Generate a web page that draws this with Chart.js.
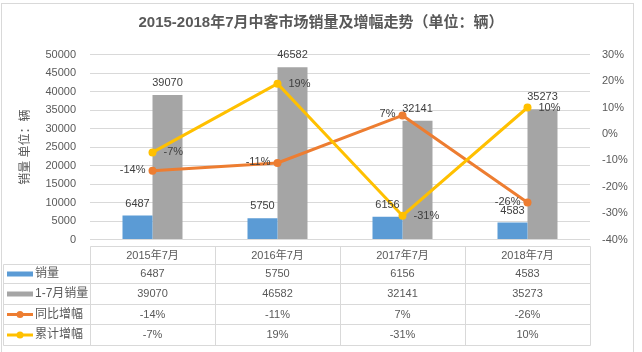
<!DOCTYPE html>
<html>
<head>
<meta charset="utf-8">
<script src="https://cdn.jsdelivr.net/npm/chart.js@4/dist/chart.umd.min.js"></script>
<style>
  html, body { margin: 0; padding: 0; background: #ffffff; }
  #wrap { width: 642px; height: 352px; }
</style>
</head>
<body>
<div id="wrap"><canvas id="c" width="642" height="352"></canvas></div>
<script>
const categories = ['2015年7月', '2016年7月', '2017年7月', '2018年7月'];
const salesJuly = [6487, 5750, 6156, 4583];
const salesJanJul = [39070, 46582, 32141, 35273];
const yoyGrowth = [-14, -11, 7, -26];
const cumGrowth = [-7, 19, -31, 10];
const leftTicks = [0, 5000, 10000, 15000, 20000, 25000, 30000, 35000, 40000, 45000, 50000];
const rightTicks = [-40, -30, -20, -10, 0, 10, 20, 30];
const seriesNames = ['销量', '1-7月销量', '同比增幅', '累计增幅'];

const FONT = '"Liberation Sans", "Noto Sans CJK SC", sans-serif';
const C_BLUE = '#5B9BD5', C_GRAY = '#A5A5A5', C_ORANGE = '#ED7D31', C_YELLOW = '#FFC000';
const TXT = '#595959', LBL = '#404040', GRID = '#D9D9D9';

const pct = v => v + '%';

const borderPlugin = {
  id: 'borderPlugin',
  beforeDraw(chart) {
    const ctx = chart.ctx;
    ctx.save();
    ctx.fillStyle = '#ffffff';
    ctx.fillRect(0, 0, chart.width, chart.height);
    ctx.strokeStyle = GRID;
    ctx.lineWidth = 1;
    ctx.strokeRect(1.5, 3.5, 632, 360);
    ctx.restore();
  }
};

const labelPlugin = {
  id: 'labelPlugin',
  afterDatasetsDraw(chart) {
    const ctx = chart.ctx;
    ctx.save();
    ctx.font = '11px ' + FONT;
    ctx.fillStyle = LBL;
    chart.data.datasets.forEach((ds, di) => {
      const meta = chart.getDatasetMeta(di);
      meta.data.forEach((el, i) => {
        const v = ds.data[i];
        if (ds.type === 'bar') {
          ctx.textAlign = 'center';
          ctx.textBaseline = 'middle';
          ctx.fillText(String(v), el.x, el.y - 12);
        } else if (ds.labelSide === 'left') {
          ctx.textAlign = 'right';
          ctx.textBaseline = 'middle';
          ctx.fillText(pct(v), el.x - 7, el.y - 1);
        } else {
          ctx.textAlign = 'left';
          ctx.textBaseline = 'middle';
          ctx.fillText(pct(v), el.x + 11, el.y);
        }
      });
    });
    ctx.restore();
  }
};

const tablePlugin = {
  id: 'tablePlugin',
  afterDraw(chart) {
    const ctx = chart.ctx;
    const xs = chart.scales.x;
    const area = chart.chartArea;
    const n = categories.length;
    const colW = (area.right - area.left) / n;
    const rows = [246.5, 264.5, 283.5, 304.5, 324.5, 345.5];
    const tableLeft = 3.5;
    ctx.save();
    ctx.strokeStyle = GRID;
    ctx.lineWidth = 1;
    ctx.beginPath();
    ctx.moveTo(Math.round(area.left) + 0.5, rows[0]);
    ctx.lineTo(Math.round(area.right) + 0.5, rows[0]);
    for (let r = 1; r < rows.length; r++) {
      ctx.moveTo(tableLeft, rows[r]);
      ctx.lineTo(Math.round(area.right) + 0.5, rows[r]);
    }
    ctx.moveTo(tableLeft, rows[1]);
    ctx.lineTo(tableLeft, rows[rows.length - 1]);
    for (let c = 0; c <= n; c++) {
      const x = Math.round(area.left + c * colW) + 0.5;
      ctx.moveTo(x, rows[0]);
      ctx.lineTo(x, rows[rows.length - 1]);
    }
    ctx.stroke();

    ctx.font = '11px ' + FONT;
    ctx.textAlign = 'center';
    ctx.textBaseline = 'middle';
    ctx.fillStyle = TXT;
    categories.forEach((c, i) => {
      ctx.fillText(c, xs.getPixelForValue(i), (rows[0] + rows[1]) / 2);
    });
    const rowData = [
      salesJuly.map(String),
      salesJanJul.map(String),
      yoyGrowth.map(pct),
      cumGrowth.map(pct)
    ];
    const colors = [C_BLUE, C_GRAY, C_ORANGE, C_YELLOW];
    rowData.forEach((vals, r) => {
      const yc = (rows[r + 1] + rows[r + 2]) / 2;
      if (r < 2) {
        ctx.fillStyle = colors[r];
        ctx.fillRect(7, yc - 2.5, 26, 5);
      } else {
        ctx.strokeStyle = colors[r];
        ctx.lineWidth = 3;
        ctx.beginPath();
        ctx.moveTo(7, yc);
        ctx.lineTo(33, yc);
        ctx.stroke();
        ctx.fillStyle = colors[r];
        ctx.beginPath();
        ctx.arc(20, yc, 3.5, 0, Math.PI * 2);
        ctx.fill();
      }
      ctx.fillStyle = TXT;
      ctx.textAlign = 'left';
      ctx.font = '12px ' + FONT;
      ctx.fillText(seriesNames[r], 35, yc);
      ctx.font = '11px ' + FONT;
      ctx.textAlign = 'center';
      vals.forEach((v, i) => {
        ctx.fillText(v, xs.getPixelForValue(i), yc);
      });
    });
    ctx.restore();
  }
};

new Chart(document.getElementById('c'), {
  data: {
    labels: categories,
    datasets: [
      {
        type: 'line', label: seriesNames[3], data: cumGrowth, yAxisID: 'y1', order: 1,
        borderColor: C_YELLOW, backgroundColor: C_YELLOW, borderWidth: 3,
        pointRadius: 4, pointBackgroundColor: C_YELLOW, pointBorderWidth: 0,
        tension: 0, labelSide: 'right'
      },
      {
        type: 'line', label: seriesNames[2], data: yoyGrowth, yAxisID: 'y1', order: 2,
        borderColor: C_ORANGE, backgroundColor: C_ORANGE, borderWidth: 3,
        pointRadius: 4, pointBackgroundColor: C_ORANGE, pointBorderWidth: 0,
        tension: 0, labelSide: 'left'
      },
      {
        type: 'bar', label: seriesNames[0], data: salesJuly, yAxisID: 'y', order: 3,
        backgroundColor: C_BLUE, categoryPercentage: 0.48, barPercentage: 1
      },
      {
        type: 'bar', label: seriesNames[1], data: salesJanJul, yAxisID: 'y', order: 4,
        backgroundColor: C_GRAY, categoryPercentage: 0.48, barPercentage: 1
      }
    ]
  },
  options: {
    responsive: false,
    animation: false,
    devicePixelRatio: 1,
    layout: { padding: { left: 0, right: 0, top: 0, bottom: 112.5 } },
    plugins: {
      legend: { display: false },
      tooltip: { enabled: false },
      title: {
        display: true,
        text: '2015-2018年7月中客市场销量及增幅走势（单位：辆）',
        color: TXT,
        font: { family: FONT, size: 15, weight: 'bold' },
        padding: { top: 14, bottom: 22.7 }
      }
    },
    scales: {
      x: { display: false },
      y: {
        position: 'left',
        min: leftTicks[0], max: leftTicks[leftTicks.length - 1],
        afterBuildTicks(scale) { scale.ticks = leftTicks.map(v => ({ value: v })); },
        afterFit(scale) { scale.width = 90; },
        grid: { color: GRID, lineWidth: 1, drawTicks: false },
        border: { display: false },
        ticks: { color: TXT, font: { family: FONT, size: 11 }, padding: 14, callback: v => String(v) },
        title: {
          display: true, text: '销量 单位：辆', color: TXT,
          font: { family: FONT, size: 12 }, padding: { top: 18, bottom: 0 }
        }
      },
      y1: {
        position: 'right',
        min: rightTicks[0], max: rightTicks[rightTicks.length - 1],
        afterBuildTicks(scale) { scale.ticks = rightTicks.map(v => ({ value: v })); },
        afterFit(scale) { scale.width = 52; },
        grid: { display: false, drawTicks: false },
        border: { display: false },
        ticks: { color: TXT, font: { family: FONT, size: 11 }, padding: 12, callback: v => pct(v) }
      }
    }
  },
  plugins: [borderPlugin, labelPlugin, tablePlugin]
});
</script>
</body>
</html>
